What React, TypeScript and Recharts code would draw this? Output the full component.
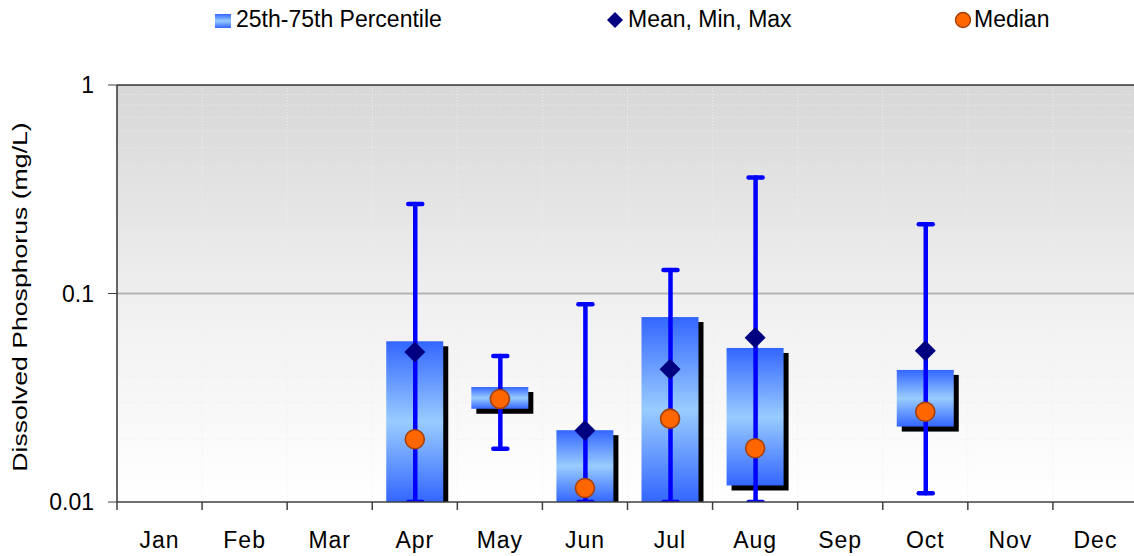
import {
  ComposedChart,
  Bar,
  Line,
  XAxis,
  YAxis,
  CartesianGrid,
  ReferenceLine,
} from 'recharts';

const months = ['Jan', 'Feb', 'Mar', 'Apr', 'May', 'Jun', 'Jul', 'Aug', 'Sep', 'Oct', 'Nov', 'Dec'];

// 25th / 75th percentile (box), mean, min, max, median — mg/L
const p25 = [null, null, null, 0.01, 0.028, 0.01, 0.01, 0.012, null, 0.023, null, null];
const p75 = [null, null, null, 0.059, 0.0356, 0.0221, 0.0771, 0.0548, null, 0.043, null, null];
const means = [null, null, null, 0.0524, 0.0316, 0.022, 0.0433, 0.0614, null, 0.0532, null, null];
const mins = [null, null, null, 0.01, 0.018, 0.01, 0.01, 0.01, null, 0.011, null, null];
const maxs = [null, null, null, 0.269, 0.0501, 0.0888, 0.1297, 0.3596, null, 0.2147, null, null];
const medians = [null, null, null, 0.02, 0.0312, 0.01167, 0.0251, 0.0181, null, 0.0271, null, null];

const yTicks = [0.01, 0.1, 1];
const minorTicks = [0.02, 0.03, 0.04, 0.05, 0.06, 0.07, 0.08, 0.09, 0.2, 0.3, 0.4, 0.5, 0.6, 0.7, 0.8, 0.9];
const majorGrid = [0.1];

const data = months.map((m, i) => ({
  month: m,
  box: p25[i] != null ? [p25[i], p75[i]] : null,
  whisker: mins[i] != null ? [mins[i], maxs[i]] : null,
  mean: means[i],
  median: medians[i],
}));

const FONT = '"Liberation Sans", Arial, sans-serif';
const CHART_W = 1140;
const CHART_H = 556;
const Y_AXIS_W = 117;
const MARGIN = { top: 85, right: 2, bottom: 24, left: 0 };
const PLOT_BOTTOM = CHART_H - MARGIN.bottom - 30;
const PLOT_W = CHART_W - MARGIN.right - Y_AXIS_W;
const BAND = PLOT_W / months.length;

const ok = (...v: any[]) => v.every((n) => typeof n === 'number' && Number.isFinite(n));

// y positions of grid values, through the axis scale
const gridYs = (values: number[]) => (props: any) => {
  const s = props?.yAxis?.scale;
  return values.map((v) => {
    if (typeof s === 'function') return s(v);
    const t = (Math.log10(v) - Math.log10(0.01)) / 2;
    return PLOT_BOTTOM - t * (PLOT_BOTTOM - MARGIN.top);
  });
};

const BoxShape = (props: any) => {
  const { x, y, width, height } = props;
  if (!ok(x, y, width, height)) return <g />;
  const top = Math.min(y, y + height);
  const h = Math.abs(height);
  const shadowBottom = Math.min(top + h + 5, PLOT_BOTTOM);
  return (
    <g>
      <rect x={x + 5} y={top + 5} width={width} height={Math.max(0, shadowBottom - top - 5)} fill="#000" />
      <rect x={x} y={top} width={width} height={h} fill="url(#boxFill)" />
    </g>
  );
};

const WhiskerShape = (props: any) => {
  const { x, y, width, height } = props;
  if (!ok(x, y, width, height)) return <g />;
  const top = Math.min(y, y + height);
  const bottom = Math.max(y, y + height);
  const cx = x + width / 2;
  return (
    <g stroke="#0000ff" strokeWidth={4.5} strokeLinecap="round" strokeDasharray="none">
      <line x1={cx} x2={cx} y1={top} y2={bottom} />
      <line x1={x + 2} x2={x + width - 2} y1={top} y2={top} />
      <line x1={x + 2} x2={x + width - 2} y1={bottom} y2={bottom} />
    </g>
  );
};

const DiamondDot = (props: any) => {
  const { cx, cy } = props;
  if (!ok(cx, cy)) return <g />;
  return <path d={`M${cx},${cy - 10.5} L${cx + 10.5},${cy} L${cx},${cy + 10.5} L${cx - 10.5},${cy} Z`} fill="#000080" />;
};

const MedianDot = (props: any) => {
  const { cx, cy } = props;
  if (!ok(cx, cy)) return <g />;
  return <circle cx={cx} cy={cy} r={9.5} fill="#ff6600" stroke="#a3400b" strokeWidth={1.6} />;
};

const MonthTick = (props: any) => {
  const { x, y, payload } = props;
  const bx = x - BAND / 2;
  return (
    <g>
      <line x1={bx} x2={bx} y1={y} y2={y + 8} stroke="#404040" strokeWidth={1.5} />
      <text x={x} y={y + 46} textAnchor="middle" fontSize={23} letterSpacing={1} fill="#000" fontFamily={FONT}>
        {payload.value}
      </text>
    </g>
  );
};

const YLabel = () => (
  <text
    transform="translate(27,297) rotate(-90) scale(1.3,1)"
    textAnchor="middle"
    fontSize={20.5}
    fill="#000"
    fontFamily={FONT}
  >
    Dissolved Phosphorus (mg/L)
  </text>
);

const TopLegend = () => (
  <svg width={1134} height={44} style={{ position: 'absolute', left: 0, top: 0 }}>
    <defs>
      <linearGradient id="legBox" x1="0" y1="0" x2="0" y2="1">
        <stop offset="0%" stopColor="#3366ff" />
        <stop offset="50%" stopColor="#99ccff" />
        <stop offset="100%" stopColor="#3366ff" />
      </linearGradient>
    </defs>
    <g fontFamily={FONT} fontSize={23} fill="#000">
      <rect x={215} y={14} width={16} height={14} fill="url(#legBox)" />
      <text x={236} y={27}>25th-75th Percentile</text>
      <path d="M615,12 L623,20 L615,28 L607,20 Z" fill="#000080" />
      <text x={628} y={27}>Mean, Min, Max</text>
      <circle cx={963} cy={20} r={7.5} fill="#ff6600" stroke="#a3400b" strokeWidth={1.4} />
      <text x={974} y={27}>Median</text>
    </g>
  </svg>
);

export default function App() {
  return (
    <div
      style={{
        position: 'absolute',
        left: 0,
        top: 0,
        width: 1134,
        height: 556,
        overflow: 'hidden',
        background: '#fff',
        fontFamily: FONT,
      }}
    >
      <TopLegend />
      <ComposedChart width={CHART_W} height={CHART_H} data={data} margin={MARGIN}>
        <defs>
          <linearGradient id="plotBg" x1="0" y1="0" x2="0" y2="1">
            <stop offset="0%" stopColor="#d7d7d7" />
            <stop offset="55%" stopColor="#f1f1f1" />
            <stop offset="100%" stopColor="#ffffff" />
          </linearGradient>
          <linearGradient id="boxFill" x1="0" y1="0" x2="0" y2="1">
            <stop offset="0%" stopColor="#3366ff" />
            <stop offset="50%" stopColor="#99ccff" />
            <stop offset="100%" stopColor="#3366ff" />
          </linearGradient>
        </defs>
        <CartesianGrid
          xAxisId="a"
          fill="url(#plotBg)"
          fillOpacity={1}
          stroke="#eeeeee"
          strokeDasharray="1 2"
          verticalCoordinatesGenerator={() => months.map((_, i) => Y_AXIS_W + i * BAND)}
          horizontalCoordinatesGenerator={gridYs(minorTicks)}
        />
        <CartesianGrid
          xAxisId="a"
          vertical={false}
          stroke="#b5b5b5"
          strokeWidth={2}
          horizontalCoordinatesGenerator={gridYs(majorGrid)}
        />
        <ReferenceLine y={1} xAxisId="a" stroke="#333" strokeWidth={1.5} />
        <XAxis
          xAxisId="a"
          dataKey="month"
          height={30}
          tickLine={false}
          tickSize={0}
          tickMargin={0}
          axisLine={{ stroke: '#404040', strokeWidth: 1.5 }}
          tick={<MonthTick />}
          interval={0}
        />
        <XAxis xAxisId="b" dataKey="month" hide />
        <YAxis
          scale="log"
          domain={[0.01, 1]}
          ticks={yTicks}
          allowDataOverflow
          width={Y_AXIS_W}
          tickSize={9}
          tickMargin={14}
          tick={{ fontSize: 23, fill: '#000', fontFamily: FONT }}
          tickLine={{ stroke: '#404040' }}
          axisLine={{ stroke: '#333', strokeWidth: 1.5 }}
          tickFormatter={(v: number) => String(v)}
          label={<YLabel />}
        />
        <Bar xAxisId="a" dataKey="box" barSize={57} shape={<BoxShape />} isAnimationActive={false} />
        <Bar xAxisId="b" dataKey="whisker" barSize={18} shape={<WhiskerShape />} isAnimationActive={false} />
        <Line
          xAxisId="a"
          dataKey="mean"
          stroke="none"
          dot={<DiamondDot />}
          activeDot={false}
          isAnimationActive={false}
        />
        <Line
          xAxisId="a"
          dataKey="median"
          stroke="none"
          dot={<MedianDot />}
          activeDot={false}
          isAnimationActive={false}
        />
      </ComposedChart>
    </div>
  );
}
